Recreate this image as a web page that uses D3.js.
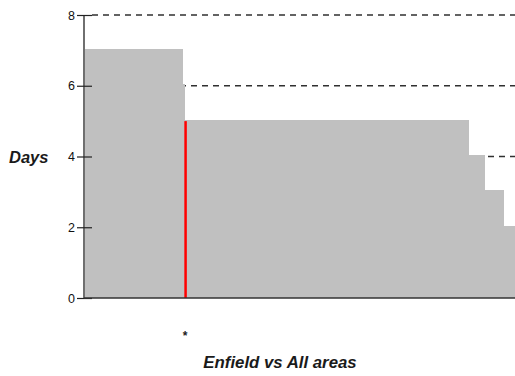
<!DOCTYPE html>
<html>
<head>
<meta charset="utf-8">
<script src="https://cdn.jsdelivr.net/npm/d3@7"></script>
<style>
  html, body { margin: 0; padding: 0; background: #fff; }
  svg { display: block; }
</style>
</head>
<body>
<svg id="chart" width="515" height="376"></svg>
<script>
// Days per area, sorted descending (one value per area)
const areaValues = [
  7,7,7,7,7,7,7,7,7,7, 7,7,7,7,7,7,7,7,7,7, 7,7,7,7,7,7,7,7,7,7, 7,7,7,7,7,7,
  6,
  5,5,5,5,5,5,5,5,5,5, 5,5,5,5,5,5,5,5,5,5, 5,5,5,5,5,5,5,5,5,5,
  5,5,5,5,5,5,5,5,5,5, 5,5,5,5,5,5,5,5,5,5, 5,5,5,5,5,5,5,5,5,5,
  5,5,5,5,5,5,5,5,5,5, 5,5,5,5,5,5,5,5,5,5, 5,5,5,5,5,5,5,5,5,5,
  5,5,5,5,5,5,5,5,5,5, 5,5,5,5,5,
  4,4,4,4,4,4,
  3,3,3,3,3,3,3,
  2,2,2,2
];
const highlightIndex = 37;          // Enfield
const highlightLabel = "*";
const yTicks = [0, 2, 4, 6, 8];
const gridTicks = [2, 4, 6, 8];
const yLabel = "Days";
const xLabel = "Enfield vs All areas";

const svg = d3.select("#chart");
const mLeft = 84, mRight = 515, mTop = 15, mBottom = 298;

const x = d3.scaleBand()
  .domain(d3.range(areaValues.length))
  .range([mLeft + 1, mRight - 1])
  .padding(0);
const y = d3.scaleLinear().domain([0, 8]).range([mBottom, mTop]);

// dashed grid lines (behind bars)
svg.append("g").selectAll("line").data(gridTicks).join("line")
  .attr("x1", mLeft + 8).attr("x2", mRight)
  .attr("y1", d => y(d)).attr("y2", d => y(d))
  .attr("stroke", "#303030").attr("stroke-width", 1.5)
  .attr("stroke-dasharray", "6,5");

// grey bars (tops cover the grid line at the same level)
svg.append("g").attr("shape-rendering", "crispEdges")
  .selectAll("rect").data(areaValues).join("rect")
  .attr("x", (d, i) => x(i))
  .attr("width", x.bandwidth() + 0.6)
  .attr("y", d => Math.floor(y(d) - 1))
  .attr("height", d => y(0) - Math.floor(y(d) - 1))
  .attr("fill", "#c0c0c0");

// highlighted bar
svg.append("rect")
  .attr("x", x(highlightIndex) - 0.5)
  .attr("width", x.bandwidth() - 0.2)
  .attr("y", y(areaValues[highlightIndex]))
  .attr("height", y(0) - y(areaValues[highlightIndex]))
  .attr("fill", "#ff0000");

// y axis
const yAxis = d3.axisLeft(y).tickValues(yTicks).tickSize(0).tickPadding(0);
const gy = svg.append("g").attr("transform", `translate(${mLeft},0)`).call(yAxis);
gy.select(".domain").remove();
gy.selectAll(".tick text")
  .attr("x", -9)
  .attr("font-family", "Liberation Sans, Arial, sans-serif")
  .attr("font-size", 12.5)
  .attr("fill", "#111");
gy.selectAll(".tick").append("line")
  .attr("x1", -7).attr("x2", 8)
  .attr("stroke", "#222").attr("stroke-width", 1.2);

svg.append("line")
  .attr("x1", mLeft).attr("x2", mLeft)
  .attr("y1", y(8)).attr("y2", y(0))
  .attr("stroke", "#222").attr("stroke-width", 1.3);

// x baseline
svg.append("line")
  .attr("x1", mLeft).attr("x2", mRight)
  .attr("y1", y(0)).attr("y2", y(0))
  .attr("stroke", "#333").attr("stroke-width", 1.5);

// asterisk under highlighted bar
svg.append("text")
  .attr("x", x(highlightIndex) + x.bandwidth() / 2 - 1)
  .attr("y", 340)
  .attr("text-anchor", "middle")
  .attr("font-family", "Liberation Sans, Arial, sans-serif")
  .attr("font-size", 12)
  .attr("font-weight", "bold")
  .attr("fill", "#222")
  .text(highlightLabel);

// axis titles
svg.append("text")
  .attr("x", 9).attr("y", 163)
  .attr("font-family", "Liberation Sans, Arial, sans-serif")
  .attr("font-size", 16.5)
  .attr("font-weight", "bold")
  .attr("font-style", "italic")
  .attr("fill", "#1a1a1a")
  .text(yLabel);

svg.append("text")
  .attr("x", 280).attr("y", 368)
  .attr("text-anchor", "middle")
  .attr("font-family", "Liberation Sans, Arial, sans-serif")
  .attr("font-size", 16.8)
  .attr("font-weight", "bold")
  .attr("font-style", "italic")
  .attr("fill", "#1a1a1a")
  .text(xLabel);
</script>
</body>
</html>
